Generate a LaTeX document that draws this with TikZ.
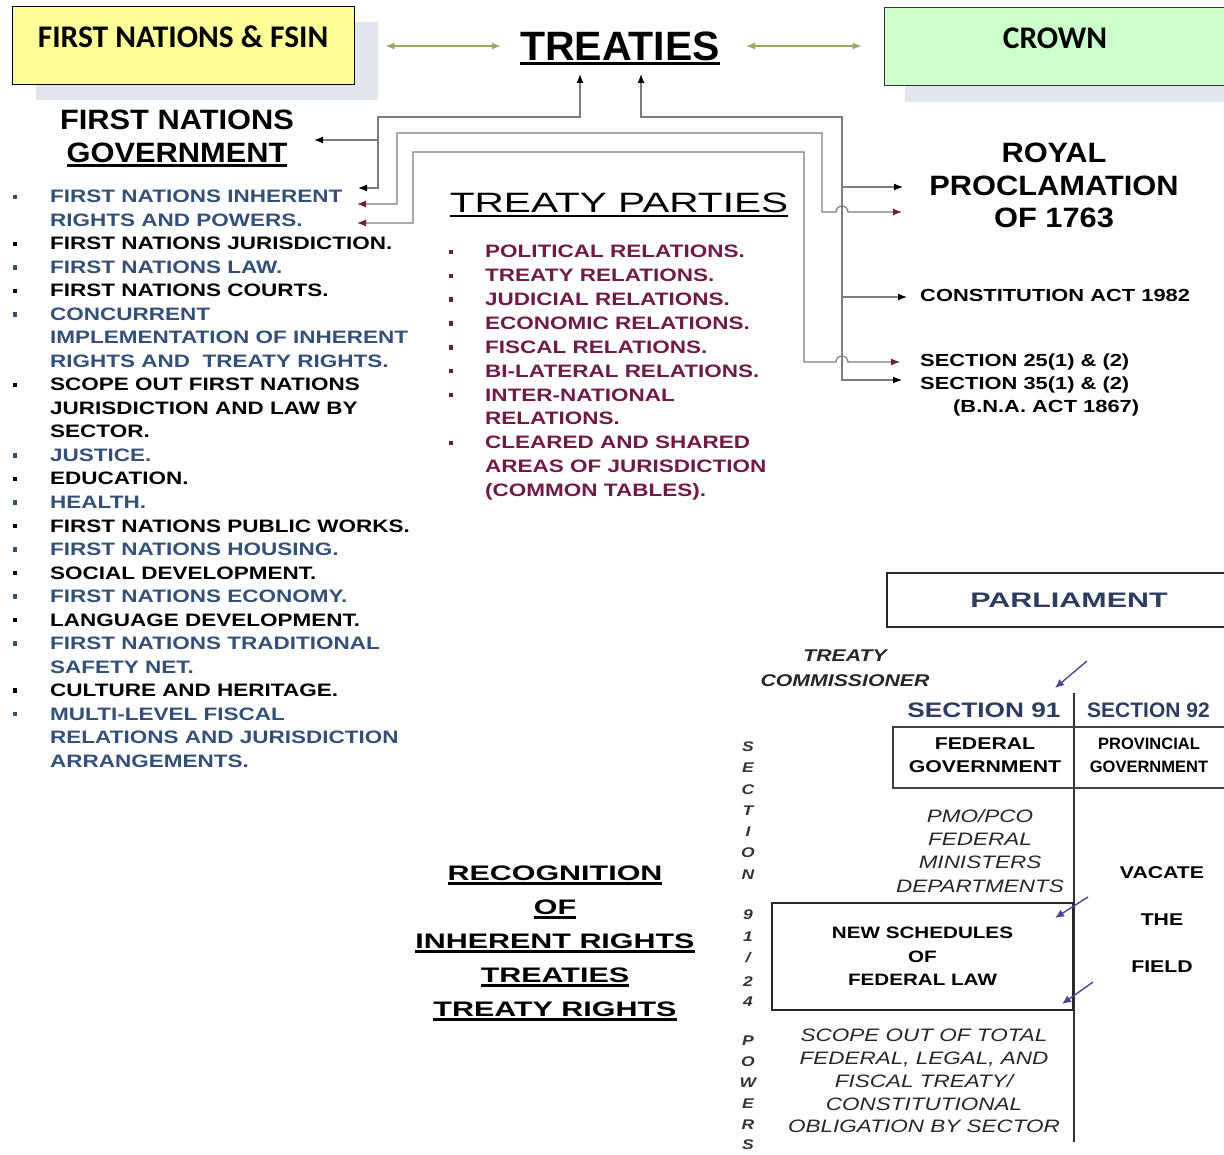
\documentclass[tikz,border=0pt]{standalone}
\usepackage{fontspec}
\setmainfont{Liberation Sans}
\newfontfamily\calfont{Carlito}
\newfontfamily\wfont{Liberation Sans}[FakeStretch=1.25]
\newfontfamily\mfont{Liberation Sans}[FakeStretch=1.1]
\newfontfamily\xfont{Liberation Sans}[FakeStretch=1.45]
\usetikzlibrary{arrows.meta,shadows}
\definecolor{fnyellow}{RGB}{255,255,153}
\definecolor{crowngreen}{RGB}{204,255,204}
\definecolor{fnblue}{RGB}{52,80,118}
\definecolor{tpmaroon}{RGB}{112,26,70}
\definecolor{linkgray}{RGB}{125,125,125}
\definecolor{olivearrow}{RGB}{150,168,100}
\definecolor{slateblue}{RGB}{72,70,150}
\definecolor{shadowblue}{RGB}{224,229,238}
\definecolor{parlblue}{RGB}{45,60,95}
\newcommand{\ulbox}[1]{\setbox0=\hbox{#1}\rlap{\rule[-4pt]{\wd0}{2.4pt}}\box0}

\begin{document}
\begin{tikzpicture}[x=1pt,y=-1pt,
  blk/.tip={Latex[length=9pt,width=7pt,color=black]},
  mar/.tip={Latex[length=9pt,width=7pt,color=tpmaroon]},
  og/.tip={Latex[length=9pt,width=7pt]},
  topbox/.style={draw,line width=1pt,minimum width=342pt,minimum height=78pt,inner ysep=0pt,text height=22pt,text depth=18pt,font=\calfont\bfseries\fontsize{31.5}{36}\selectfont},
  conn/.style={draw=linkgray,line width=1.2pt},
  grnlink/.style={draw=olivearrow,line width=1.2pt,og-og},
  ptr/.style={draw=slateblue,line width=1.4pt,-{Latex[length=9pt,width=8pt]}},
  fnline/.style={anchor=base west,inner sep=0pt,font=\wfont\bfseries\fontsize{18}{22}\selectfont},
  bul/.style={rectangle,inner sep=0pt,minimum size=4.5pt},
  rtext/.style={anchor=base west,inner sep=0pt,font=\wfont\bfseries\fontsize{17.5}{23}\selectfont},
  block/.style={anchor=north,align=center,inner sep=0pt}]
\useasboundingbox (0,0) rectangle (1224,1155);

% top row
\node[topbox,fill=fnyellow,general shadow={fill=shadowblue,shadow xshift=24pt,shadow yshift=-15pt}] (fsin) at (183,46) {FIRST NATIONS \& FSIN};
\node[topbox,draw=black!80,fill=crowngreen,general shadow={fill=shadowblue,shadow xshift=21pt,shadow yshift=-16pt}] (crown) at (1055,47) {CROWN};
\node[inner sep=0pt,text height=29.5pt,text depth=0pt,font=\bfseries\fontsize{41}{48}\selectfont] (treaties) at (620,46) {\ulbox{TREATIES}};
\draw[grnlink] ([xshift=31pt]fsin.east) -- ([xshift=-19pt]treaties.west);
\draw[grnlink] ([xshift=26pt]treaties.east) -- ([xshift=-22pt]crown.west |- treaties.east);

% first nations side
\node[block,font=\mfont\bfseries\fontsize{28}{33}\selectfont] (fngov) at (177,110) {FIRST NATIONS\\\ulbox{GOVERNMENT}};
\foreach \k/\txt/\col in {0/FIRST NATIONS INHERENT/fnblue,1/RIGHTS AND POWERS./fnblue,2/FIRST NATIONS JURISDICTION./black,3/FIRST NATIONS LAW./fnblue,4/FIRST NATIONS COURTS./black,5/CONCURRENT/fnblue,6/IMPLEMENTATION OF INHERENT/fnblue,7/RIGHTS AND \ TREATY RIGHTS./fnblue,8/SCOPE OUT FIRST NATIONS/black,9/JURISDICTION AND LAW BY/black,10/SECTOR./black,11/JUSTICE./fnblue,12/EDUCATION./black,13/HEALTH./fnblue,14/FIRST NATIONS PUBLIC WORKS./black,15/FIRST NATIONS HOUSING./fnblue,16/SOCIAL DEVELOPMENT./black,17/FIRST NATIONS ECONOMY./fnblue,18/LANGUAGE DEVELOPMENT./black,19/FIRST NATIONS TRADITIONAL/fnblue,20/SAFETY NET./fnblue,21/CULTURE AND HERITAGE./black,22/MULTI-LEVEL FISCAL/fnblue,23/RELATIONS AND JURISDICTION/fnblue,24/ARRANGEMENTS./fnblue}
  \node[fnline,text=\col] (fn\k) at (50,{203+23.5*\k}) {\txt};
\foreach \k/\col in {0/fnblue,2/black,3/fnblue,4/black,5/fnblue,8/black,11/fnblue,12/black,13/fnblue,14/black,15/fnblue,16/black,17/fnblue,18/black,19/fnblue,21/black,22/fnblue}
  \node[bul,fill=\col] (fb\k) at (15,{197+23.5*\k}) {};

% treaty parties
\node[anchor=base,inner sep=0pt,font=\xfont\fontsize{28}{33}\selectfont] (tparties) at (619,213) {\ulbox{TREATY PARTIES}};
\foreach \k/\txt in {0/POLITICAL RELATIONS.,1/TREATY RELATIONS.,2/JUDICIAL RELATIONS.,3/ECONOMIC RELATIONS.,4/FISCAL RELATIONS.,5/BI-LATERAL RELATIONS.,6/INTER-NATIONAL,7/RELATIONS.,8/CLEARED AND SHARED,9/AREAS OF JURISDICTION,10/(COMMON TABLES).}
  \node[fnline,text=tpmaroon] (tp\k) at (485,{258+23.85*\k}) {\txt};
\foreach \k in {0,...,6,8}
  \node[bul,fill=tpmaroon] (tb\k) at (451,{252+23.85*\k}) {};

% crown side
\node[block,font=\mfont\bfseries\fontsize{28}{32.5}\selectfont] (royal) at (1054,143) {ROYAL\\PROCLAMATION\\OF 1763};
\node[rtext] (consact) at (920,302) {CONSTITUTION ACT 1982};
\node[rtext] (s25) at (920,367) {SECTION 25(1) \& (2)};
\node[rtext] (s35) at (920,390) {SECTION 35(1) \& (2)};
\node[rtext] (bna) at (953,413) {(B.N.A. ACT 1867)};

% connectors
\coordinate (upL) at (580,74);
\coordinate (upR) at (641,74);
\coordinate (kA) at (378,117);
\coordinate (jGov) at (378,140);
\coordinate (tipGov) at (314,140);
\coordinate (tipIn1) at (358,188);
\coordinate (tipIn2) at (357,204);
\coordinate (tipIn3) at (357,223);
\coordinate (kB) at (397,133);
\coordinate (kB2) at (822,212);
\coordinate (kC) at (413,152);
\coordinate (kC2) at (804,362);
\coordinate (kD) at (842,117);
\coordinate (jRP) at (842,187);
\coordinate (jCA) at (842,297);
\coordinate (tipRP) at (903,187);
\coordinate (tipRP2) at (902,212);
\coordinate (tipCA) at (907,297);
\coordinate (tipS25) at (900,362);
\coordinate (tipS35) at (902,380);
\draw[conn,blk-blk] (tipIn1) -| (kA) -| (upL);
\draw[conn,-blk] (jGov) -- (tipGov);
\draw[conn,mar-mar] (tipIn2) -| (kB) -| (kB2) -- (836,212) arc[start angle=180,end angle=0,radius=6pt] -- (tipRP2);
\draw[conn,mar-mar] (tipIn3) -| (kC) -| (kC2) -- (836,362) arc[start angle=180,end angle=0,radius=6pt] -- (tipS25);
\draw[conn,blk-blk] (upR) |- (kD) |- (tipS35);
\draw[conn,-blk] (jRP) -- (tipRP);
\draw[conn,-blk] (jCA) -- (tipCA);

% recognition
\node[block,font=\xfont\bfseries\fontsize{21}{34}\selectfont] (recog) at (555,866) {\ulbox{RECOGNITION}\\\ulbox{OF}\\\ulbox{INHERENT RIGHTS}\\\ulbox{TREATIES}\\\ulbox{TREATY RIGHTS}};

% parliament side
\node[draw=black!85,line width=1.6pt,minimum width=364pt,minimum height=54pt,text=parlblue,font=\xfont\bfseries\fontsize{21}{25}\selectfont] (parl) at (1069,600) {PARLIAMENT};
\node[block,text=black!85,font=\wfont\bfseries\itshape\fontsize{17}{25}\selectfont] (tcomm) at (845,650) {TREATY\\COMMISSIONER};
\coordinate (tcA) at (1087,661);
\coordinate (tcB) at (1055,688);
\draw[ptr] (tcA) -- (tcB);
\node[anchor=base,inner sep=0pt,text=parlblue,font=\wfont\bfseries\fontsize{21}{25}\selectfont] (s91) at (984,717) {SECTION 91};
\node[anchor=base west,inner sep=0pt,text=parlblue,font=\bfseries\fontsize{21}{25}\selectfont] (s92) at (1087,717) {SECTION 92};
\draw[line width=1.2pt,black!80] (1074,693) -- (1074,1142);
\draw[line width=1.2pt,black!75] (893,727) rectangle (1240,788);
\node[block,font=\wfont\bfseries\fontsize{17}{23}\selectfont] (fedgov) at (985,738) {FEDERAL\\GOVERNMENT};
\node[block,font=\bfseries\fontsize{16.5}{23}\selectfont] (provgov) at (1149,738) {PROVINCIAL\\GOVERNMENT};
\node[block,text=black!85,font=\wfont\itshape\fontsize{18}{23.3}\selectfont] (pmo) at (980,809) {PMO/PCO\\FEDERAL\\MINISTERS\\DEPARTMENTS};
\node[draw=black!85,line width=2.5pt,minimum width=301pt,minimum height=107pt,align=center,font=\wfont\bfseries\fontsize{16.5}{23.5}\selectfont] (newsched) at (922.5,956.5) {NEW SCHEDULES\\OF\\FEDERAL LAW};
\node[block,font=\wfont\bfseries\fontsize{17}{47}\selectfont] (vacate) at (1162,866) {VACATE\\THE\\FIELD};
\coordinate (vA1) at (1088,897);
\coordinate (vA2) at (1055,918);
\coordinate (vB1) at (1093,982);
\coordinate (vB2) at (1062,1004);
\draw[ptr] (vA1) -- (vA2);
\draw[ptr] (vB1) -- (vB2);
\node[block,text=black!85,font=\wfont\itshape\fontsize{18}{22.8}\selectfont] (scope) at (924,1029) {SCOPE OUT OF TOTAL\\FEDERAL, LEGAL, AND\\FISCAL TREATY/\\CONSTITUTIONAL\\OBLIGATION BY SECTOR};
\foreach \ch/\yy [count=\n] in {S/747,E/768,C/790,T/811,I/832,O/853,N/875,9/915,1/937,{/}/958,2/982,4/1002,P/1041,O/1062,W/1083,E/1104,R/1125,S/1145}
  \node[inner sep=0pt,text=black!80,font=\wfont\bfseries\itshape\fontsize{14}{16}\selectfont] (vl\n) at (748,\yy) {\ch};
\end{tikzpicture}
\end{document}
